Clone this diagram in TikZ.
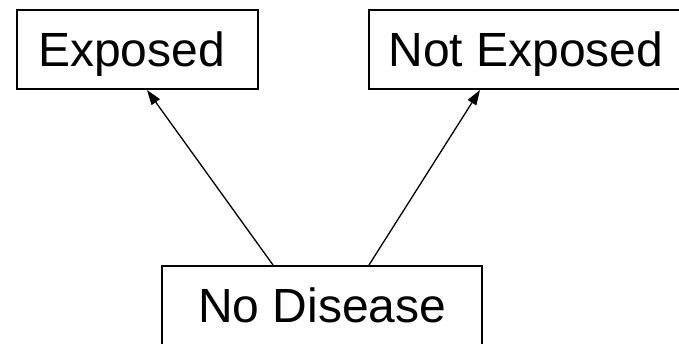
\documentclass[tikz,border=0pt]{standalone}
\usepackage{fontspec}
\setmainfont{Liberation Sans}
\usetikzlibrary{arrows.meta}
\tikzset{
  boxnode/.style={draw=black, line width=2pt, inner sep=0pt, rectangle},
  txt/.style={inner sep=0pt, anchor=base west, font=\fontsize{48}{56}\selectfont},
  conn/.style={line width=1.3pt, -{Triangle[length=15pt,width=10pt]}}
}
\begin{document}
\begin{tikzpicture}[x=1pt,y=-1pt]
\useasboundingbox (0,0) rectangle (679,344);
\node[boxnode, minimum width=241pt, minimum height=79pt] (ex) at (137.5,49.5) {};
\node[boxnode, minimum width=316pt, minimum height=79pt] (ne) at (527,49.5) {};
\node[boxnode, minimum width=320pt, minimum height=80pt] (nd) at (322,306) {};
\node[txt] (exT) at (37.9,67) {Exposed};
\node[txt] (neT) at (388.4,67) {Not Exposed};
\node[txt] (ndT) at (198,322) {No Disease};
\draw[conn] ([xshift=112pt]nd.north west) -- ([xshift=131pt]ex.south west);
\draw[conn] ([xshift=208pt]nd.north west) -- ([xshift=112pt]ne.south west);
\end{tikzpicture}
\end{document}
